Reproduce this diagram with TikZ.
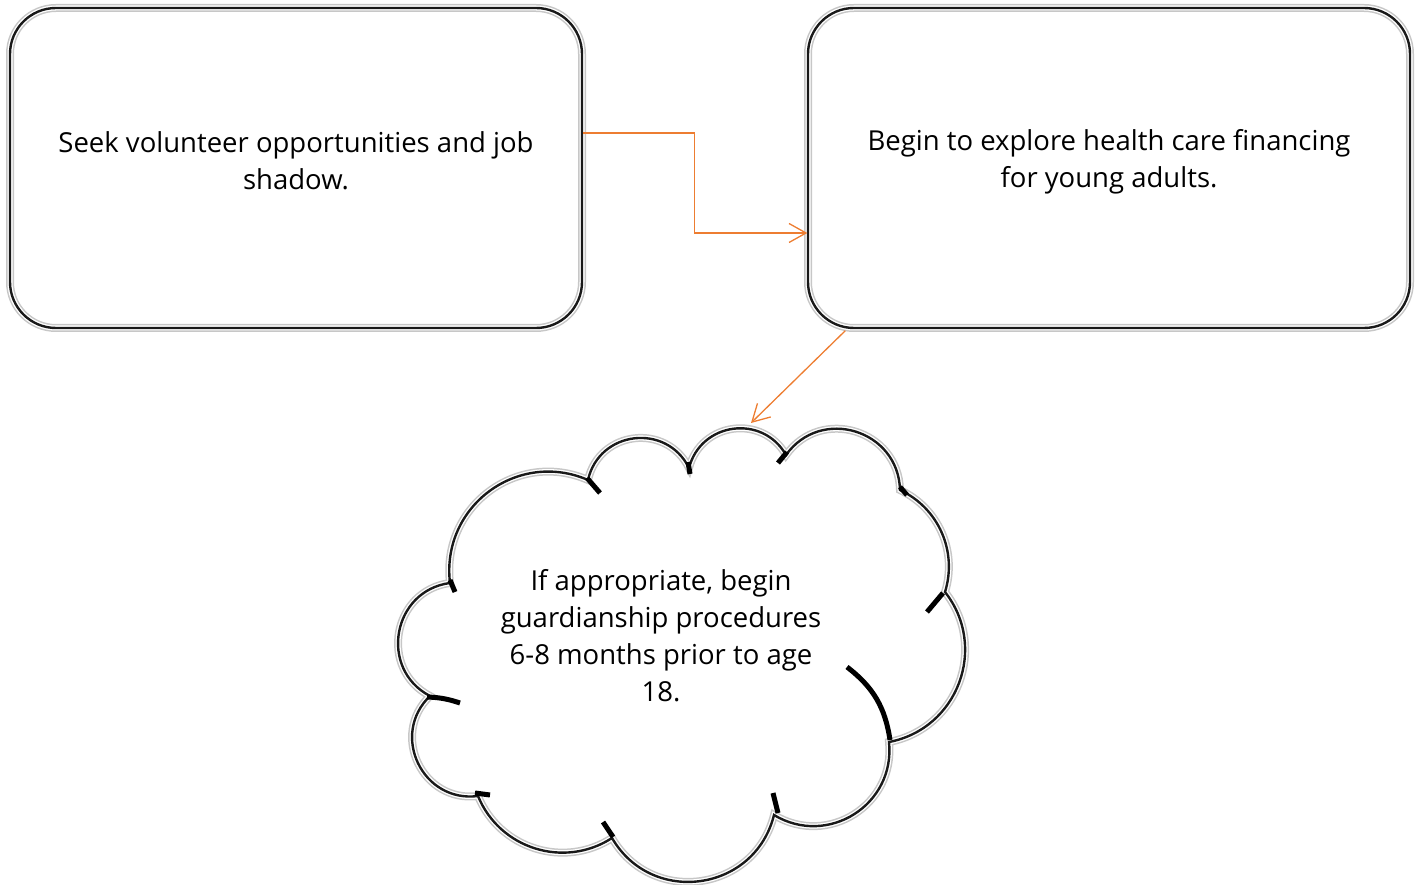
\documentclass[tikz,border=0pt]{standalone}
\usepackage{fontspec}
\setmainfont[Ligatures={NoCommon}]{Open Sans}
\usetikzlibrary{arrows.meta,calc}
\definecolor{arr}{RGB}{237,125,49}
\tikzset{
  outline/.style={preaction={draw=black!22, line width=8pt}, draw=white, line width=1.3pt, double=black!90, double distance=2.4pt},
  boxstyle/.style={outline, rounded corners=46pt, minimum height=320pt, inner sep=0pt},
  txt/.style={align=center, font=\fontsize{27.5}{37}\selectfont, text=black},
  stub/.style={draw=black, line width=5pt},
  conn/.style={draw=arr, line width=1.3pt, -{Straight Barb[length=17pt,width=19pt,line width=1.3pt]}}
}
\begin{document}
\begin{tikzpicture}[x=1pt,y=1pt]
\useasboundingbox (0,0) rectangle (1419,884);
% boxes
\node[boxstyle, minimum width=572pt] (b1) at (296,716) {};
\node[boxstyle, minimum width=602pt] (b2) at (1109,716) {};
\node[txt] (t1) at (296,723) {Seek volunteer opportunities and job\\shadow.};
\node[txt] (t2) at (1109,722) {Begin to explore health care financing\\for young adults.};
% cloud
\draw[outline] (450,301) coordinate (cB)
  to[out=96.9,in=156.5,looseness=1.14] (588,404) coordinate (cA)
  to[out=77.3,in=116.3,looseness=1.28] (689,416) coordinate (cC)
  to[out=75.6,in=119.6,looseness=1.24] (786,429) coordinate (cD)
  to[out=54.5,in=91.5,looseness=1.29] (900,394) coordinate (cE)
  to[out=-25.2,in=72.8,looseness=0.98] (945,292) coordinate (cF)
  to[out=-51.8,in=10.8,looseness=1.12] (889,142) coordinate (cG)
  to[out=-84,in=-31.1,looseness=1.18] (774,69) coordinate (cH)
  to[out=-104,in=-59.8,looseness=1.24] (612,46) coordinate (cI)
  to[out=213,in=292.2,looseness=1.04] (478,88) coordinate (cJ)
  to[out=187.4,in=223.8,looseness=1.29] (430,188) coordinate (cK)
  to[out=152.5,in=187.5,looseness=1.3] (450,301) -- cycle;
% inner arc stubs
\draw[stub] (587,406) -- (600,391);
\draw[stub] (450,304) -- (455,292);
\draw[stub] (688,422) -- (690,410);
\draw[stub] (778,421) -- (787,432);
\draw[stub] (900,397) -- (907,389);
\draw[stub] (927,272) -- (943,291);
\draw[stub] (847,217) to[bend left=22] (890,144);
\draw[stub] (773,91) -- (778,71);
\draw[stub] (603,62) -- (613,47);
\draw[stub] (475,91) -- (490,89);
\draw[stub] (427,187) to[bend left=8] (460,181);
\node[txt] (t3) at (661,248) {If appropriate, begin\\guardianship procedures\\6-8 months prior to age\\18.};
\coordinate (ctop) at (751,461);
% connectors
\draw[conn] ([yshift=35pt]b1.east) -- ++(112,0) |- ([yshift=-65pt]b2.west);
\draw[conn] ([xshift=38pt,yshift=-2pt]b2.south west) -- (ctop);
\end{tikzpicture}
\end{document}
